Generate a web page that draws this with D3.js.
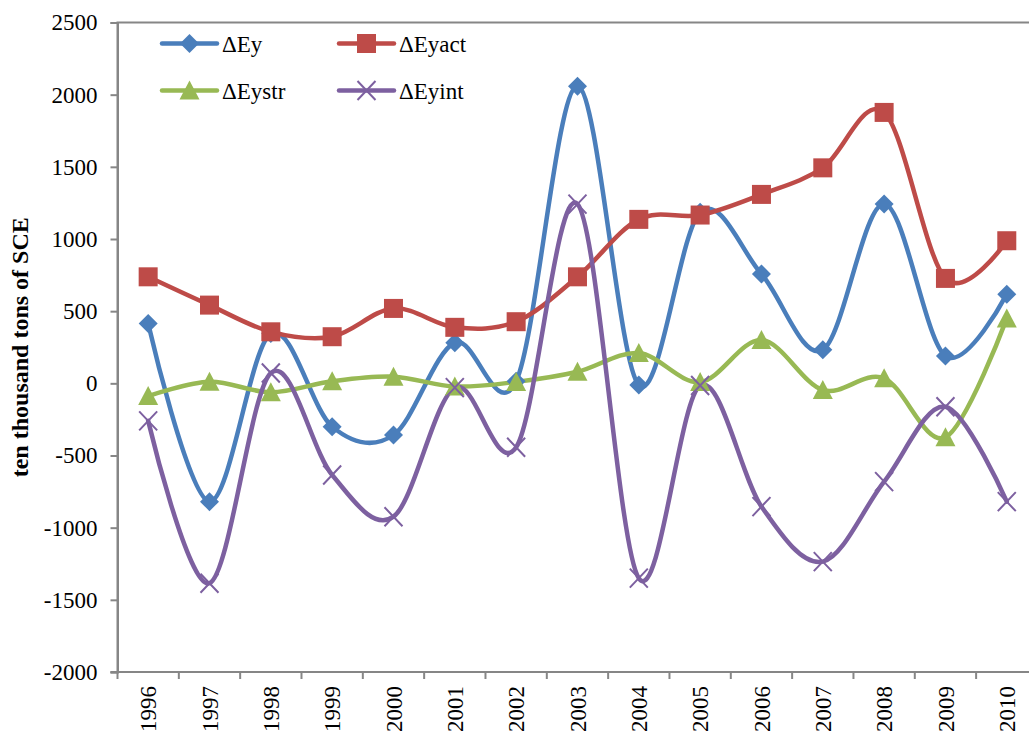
<!DOCTYPE html>
<html>
<head>
<meta charset="utf-8">
<script src="https://cdn.jsdelivr.net/npm/d3@7/dist/d3.min.js"></script>
<style>
  html, body { margin: 0; padding: 0; background: #fff; }
  svg { display: block; }
</style>
</head>
<body>
<svg id="chart" width="1029" height="731"></svg>
<script>
// Energy consumption change decomposition, 1996-2010 (ten thousand tons of SCE)
const years   = ["1996","1997","1998","1999","2000","2001","2002","2003","2004","2005","2006","2007","2008","2009","2010"];
const dEy     = [415, -820, 345, -300, -358, 282, 15, 2059, -12, 1185, 757, 232, 1242, 189, 618];
const dEyact  = [738, 542, 357, 323, 519, 388, 427, 738, 1136, 1166, 1309, 1493, 1877, 727, 988];
const dEystr  = [-88, 11, -62, 14, 46, -22, 10, 80, 210, 9, 300, -46, 35, -374, 450];
const dEyint  = [-260, -1385, 72, -635, -924, -30, -443, 1242, -1350, -15, -854, -1235, -681, -162, -820];
const yTicks  = [-2000, -1500, -1000, -500, 0, 500, 1000, 1500, 2000, 2500];

const series = [
  { name: "ΔEy",    values: dEy,    color: "#4A7EBB", marker: "diamond" },
  { name: "ΔEyact", values: dEyact, color: "#BE4B48", marker: "square" },
  { name: "ΔEystr", values: dEystr, color: "#98B954", marker: "triangle" },
  { name: "ΔEyint", values: dEyint, color: "#7D60A0", marker: "cross" }
];

const FONT = "'Liberation Serif', 'Times New Roman', Times, serif";
const svg = d3.select("#chart");
const plotLeft = 117.5, plotTop = 22.5, plotBottom = 672, catW = 61.33;
const plotRight = plotLeft + catW * years.length;
const axisColor = "#868686";

const x = d3.scaleBand().domain(years).range([plotLeft, plotRight]).paddingInner(0).paddingOuter(0);
const y = d3.scaleLinear().domain([-2000, 2500]).range([plotBottom, plotTop]);
const cx = d => x(d) + x.bandwidth() / 2;

// plot frame (top edge visible; right edge lies past the canvas)
svg.append("rect")
  .attr("x", plotLeft).attr("y", plotTop)
  .attr("width", plotRight - plotLeft).attr("height", plotBottom - plotTop)
  .attr("fill", "none").attr("stroke", axisColor).attr("stroke-width", 2);

// y axis (plain hyphen for negatives)
const yAxis = svg.append("g")
  .attr("transform", `translate(${plotLeft},0)`)
  .call(d3.axisLeft(y).tickValues(yTicks).tickSize(7).tickPadding(13).tickFormat(d => String(d)));
yAxis.attr("font-family", FONT).attr("font-size", 23);
yAxis.select(".domain").attr("stroke", axisColor).attr("stroke-width", 2);
yAxis.selectAll(".tick line").attr("stroke", axisColor).attr("stroke-width", 2);
yAxis.selectAll("text").attr("fill", "#000");

// x axis: ticks on category boundaries, rotated year labels
const xg = svg.append("g").attr("font-family", FONT).attr("font-size", 23);
xg.append("line")
  .attr("x1", plotLeft - 7).attr("x2", plotRight)
  .attr("y1", plotBottom).attr("y2", plotBottom)
  .attr("stroke", axisColor).attr("stroke-width", 2);
xg.selectAll("line.tk").data(d3.range(years.length + 1)).join("line")
  .attr("class", "tk")
  .attr("x1", i => plotLeft + i * catW).attr("x2", i => plotLeft + i * catW)
  .attr("y1", plotBottom).attr("y2", plotBottom + 7)
  .attr("stroke", axisColor).attr("stroke-width", 2);
xg.selectAll("text").data(years).join("text")
  .attr("transform", d => `translate(${cx(d)},${plotBottom + 14}) rotate(-90)`)
  .attr("text-anchor", "end")
  .attr("dy", "0.35em")
  .attr("fill", "#000")
  .text(d => d);

// y axis title
svg.append("text")
  .attr("transform", `translate(28,${(plotTop + plotBottom) / 2}) rotate(-90)`)
  .attr("text-anchor", "middle")
  .attr("font-family", FONT)
  .attr("font-size", 24).attr("font-weight", "bold")
  .attr("fill", "#000")
  .text("ten thousand tons of SCE");

// smoothed lines
const line = d3.line()
  .x((d, i) => cx(years[i]))
  .y(d => y(d))
  .curve(d3.curveCardinal.tension(0));

function drawMarker(g, type, color, px, py) {
  if (type === "diamond") {
    g.append("path")
      .attr("d", `M${px},${py - 9.5}L${px + 9.5},${py}L${px},${py + 9.5}L${px - 9.5},${py}Z`)
      .attr("fill", color);
  } else if (type === "square") {
    g.append("rect")
      .attr("x", px - 9.5).attr("y", py - 9.5).attr("width", 19).attr("height", 19)
      .attr("fill", color);
  } else if (type === "triangle") {
    g.append("path")
      .attr("d", `M${px},${py - 10}L${px + 10},${py + 9}L${px - 10},${py + 9}Z`)
      .attr("fill", color);
  } else if (type === "cross") {
    g.append("path")
      .attr("d", `M${px - 9},${py - 9.5}L${px + 9},${py + 9.5}M${px + 9},${py - 9.5}L${px - 9},${py + 9.5}`)
      .attr("stroke", color).attr("stroke-width", 2).attr("fill", "none");
  }
}

const plot = svg.append("g");
series.forEach(s => {
  plot.append("path")
    .attr("d", line(s.values))
    .attr("fill", "none")
    .attr("stroke", s.color)
    .attr("stroke-width", 4.5)
    .attr("stroke-linejoin", "round")
    .attr("stroke-linecap", "round");
});
series.forEach(s => {
  const g = plot.append("g");
  s.values.forEach((v, i) => drawMarker(g, s.marker, s.color, cx(years[i]), y(v)));
});

// legend, two columns
const legendPos = [
  { lx: 162, ly: 43.5 }, { lx: 339, ly: 43.5 },
  { lx: 162, ly: 90.5 }, { lx: 339, ly: 90.5 }
];
series.forEach((s, i) => {
  const p = legendPos[i];
  const g = svg.append("g");
  g.append("line")
    .attr("x1", p.lx).attr("x2", p.lx + 55)
    .attr("y1", p.ly).attr("y2", p.ly)
    .attr("stroke", s.color).attr("stroke-width", 4.5).attr("stroke-linecap", "round");
  drawMarker(g, s.marker, s.color, p.lx + 27.5, p.ly);
  g.append("text")
    .attr("x", p.lx + 60).attr("y", p.ly)
    .attr("dy", "0.35em")
    .attr("font-family", FONT)
    .attr("font-size", 23)
    .attr("fill", "#000")
    .text(s.name);
});
</script>
</body>
</html>
